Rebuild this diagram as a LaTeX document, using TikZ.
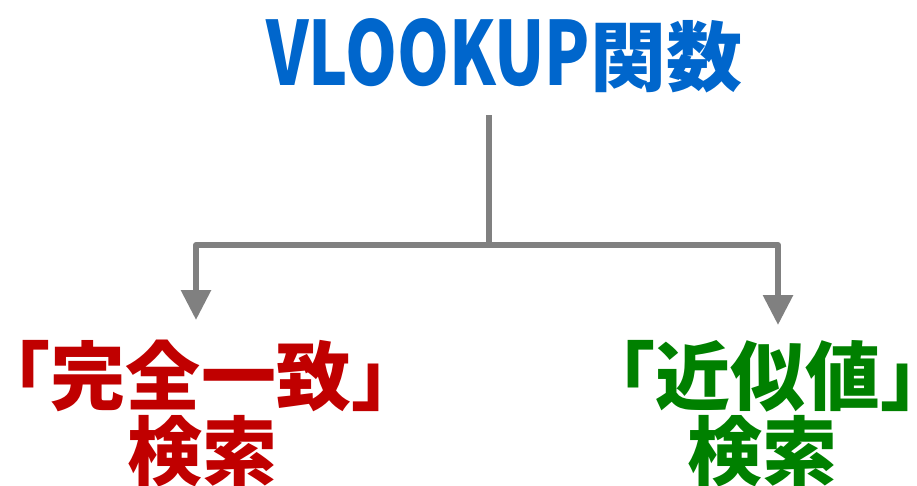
\documentclass[tikz,border=0pt]{standalone}
\usepackage{fontspec}
\usepackage{graphicx}
\newfontfamily\cjk{Noto Sans CJK JP}
\usetikzlibrary{arrows.meta}
\definecolor{tblue}{HTML}{0066CC}
\definecolor{tred}{HTML}{C00000}
\definecolor{tgreen}{HTML}{008000}
\definecolor{tgray}{HTML}{808080}
\begin{document}
\begin{tikzpicture}[x=1pt,y=-1pt,
  conn/.style={draw=tgray,line width=6pt,line join=round,-{Triangle[width=29pt,length=30pt]}},
  ttl/.style={inner sep=0pt,anchor=base west,text=tblue,font=\cjk\bfseries\fontsize{76pt}{80pt}\selectfont},
  lbl/.style={inner sep=0pt,anchor=base,font=\cjk\bfseries\fontsize{75pt}{80pt}\selectfont}]
\useasboundingbox (0,0) rectangle (917,485);
\node[ttl] (title) at (266,85) {\resizebox{324pt}{67pt}{VLOOKUP}関数};
\coordinate (top) at (489,115);
\coordinate (jn) at (489,245);
\coordinate (ltip) at (196,320);
\coordinate (rtip) at (778,325);
\node[lbl,text=tred] (l1) at (201,404) {「完全一致」};
\node[lbl,text=tred] (l2) at (202,479) {検索};
\node[lbl,text=tgreen] (r1) at (768,404) {「近似値」};
\node[lbl,text=tgreen] (r2) at (762,479) {検索};
\draw[conn] (top) -- (jn) -| (ltip);
\draw[conn] (jn) -| (rtip);
\end{tikzpicture}
\end{document}
